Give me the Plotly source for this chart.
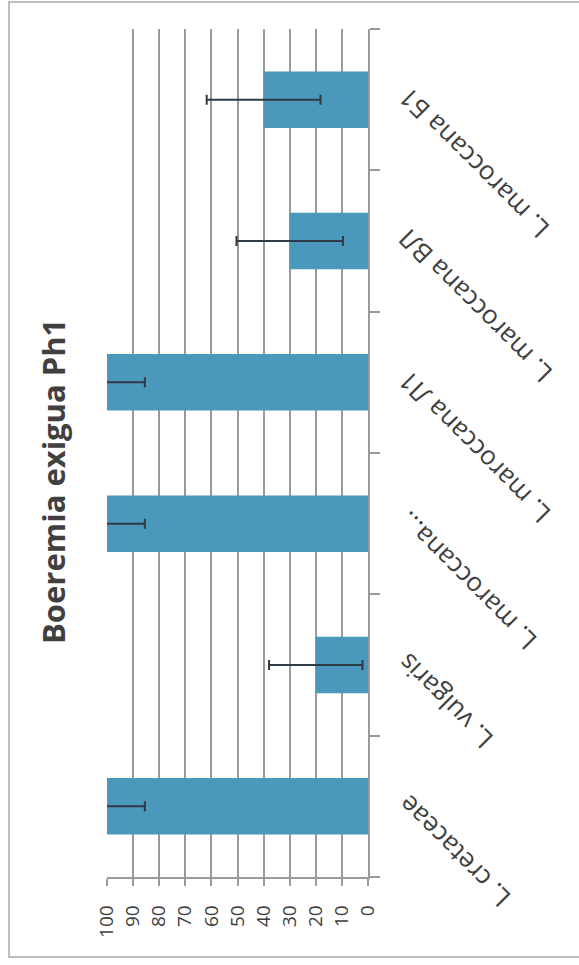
import plotly.graph_objects as go

# Percent values per isolate with their standard errors
categories = ["L. cretaceae", "L. vulgaris", "L. maroccana...",
              "L. maroccana Л1", "L. maroccana ВЛ", "L. maroccana Б1"]
values = [100, 20, 100, 100, 30, 40]
errors = [14.5, 17.9, 14.5, 14.5, 20.4, 21.8]
tick_vals = [0, 10, 20, 30, 40, 50, 60, 70, 80, 90, 100]
title_text = "Boeremia exigua Ph1"

grid_col = "#9a9a9a"
font_fam = "Open Sans, DejaVu Sans, sans-serif"

# plot area in pixels
L, R, T, B = 107, 368, 29, 877
W, H = 579, 965
pw, ph = R - L, B - T


def px_x(x):
    return (x - L) / pw


def px_y(y):
    return (B - y) / ph


fig = go.Figure()
fig.add_trace(go.Bar(
    y=categories,
    x=values,
    orientation="h",
    marker=dict(color="#4a99bc", line=dict(width=0)),
    error_x=dict(type="data", array=errors, visible=True,
                 color="#2e3a44", thickness=2, width=5),
))

# Category labels, slanted and ending next to the axis
annots = []
for cat in categories:
    annots.append(dict(
        text=cat, textangle=-135,
        xref="paper", yref="y", x=px_x(387), y=cat, yshift=22,
        xanchor="left", yanchor="top",
        showarrow=False,
        font=dict(size=26, color="#404040", family=font_fam),
    ))

annots.append(dict(
    text=title_text, textangle=-90,
    xref="paper", yref="paper",
    x=px_x(53), y=px_y(482),
    xanchor="center", yanchor="middle",
    showarrow=False,
    font=dict(size=31, color="#404040", family=font_fam, weight="bold"),
))

fig.update_layout(
    width=W, height=H,
    margin=dict(l=L, r=W - R, t=T, b=H - B, autoexpand=False),
    paper_bgcolor="white",
    plot_bgcolor="white",
    bargap=0.6,
    showlegend=False,
    font=dict(family=font_fam, color="#404040"),
    xaxis=dict(
        range=[100, 0],
        tickvals=tick_vals,
        tickangle=-90,
        tickfont=dict(size=19, color="#404040"),
        showgrid=True, gridcolor=grid_col, gridwidth=1.5,
        showline=True, linecolor=grid_col, linewidth=1.5,
        ticks="outside", ticklen=7, tickcolor=grid_col, tickwidth=1.5,
        ticklabelstandoff=12,
        zeroline=False,
        automargin=False,
        fixedrange=True,
    ),
    yaxis=dict(
        side="right",
        type="category",
        range=[-0.5, len(categories) - 0.5],
        showticklabels=False,
        showgrid=False,
        showline=True, linecolor=grid_col, linewidth=1.5,
        ticks="outside", ticklen=10, tickcolor=grid_col, tickwidth=1.5,
        tickson="boundaries",
        automargin=False,
        fixedrange=True,
    ),
    annotations=annots,
    shapes=[dict(
        type="rect", xref="paper", yref="paper",
        x0=px_x(9), x1=px_x(590),
        y0=px_y(957), y1=px_y(2),
        line=dict(color="#a8a8a8", width=1.5),
        layer="below",
    )],
)

fig.write_html("out.html")
